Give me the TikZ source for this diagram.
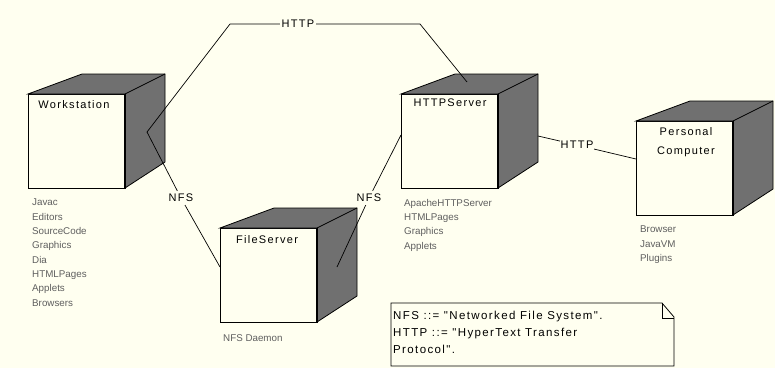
\documentclass[tikz,border=0pt]{standalone}
\usepackage{fontspec}
\setmainfont{Liberation Sans}
\newfontfamily\spacedfont[LetterSpace=12]{Liberation Sans}
\usetikzlibrary{calc}
\definecolor{bg}{RGB}{255,255,240}
\definecolor{shade}{RGB}{112,112,112}
\definecolor{lblgray}{RGB}{95,95,95}
\newcommand\mycube[3]{%
  \node[front] (#1) at (#2+48.5,#3+47) {};
  \filldraw[darkface] (#1.north west) -- ++(54,-20) -- ++(83,0) -- ++(0,88) -- (#1.south east) -- (#1.north east) -- cycle;
  \draw[darkface] (#1.north east) -- ++(40,-20);
  \draw[line width=1.8pt] (#1.north east) -- (#1.south east);
}
\begin{document}
\begin{tikzpicture}[x=1pt,y=-1pt,
  front/.style={draw=black, line width=0.8pt, fill=bg, minimum width=97pt, minimum height=94pt, inner sep=0pt, outer sep=0pt},
  darkface/.style={fill=shade, draw=black, line width=0.8pt, line join=miter},
  nametext/.style={font=\spacedfont\fontsize{11}{19}\selectfont, align=center, anchor=north, inner sep=0pt},
  deploy/.style={font=\fontsize{9.8}{14.3}\selectfont, text=lblgray, align=left, anchor=north west, inner sep=0pt},
  conlbl/.style={font=\spacedfont\fontsize{11}{13}\selectfont, inner sep=1.5pt, fill=bg},
  link/.style={draw=black, line width=0.7pt},
  notebox/.style={minimum width=283pt, minimum height=63pt, inner sep=0pt, outer sep=0pt},
  notetext/.style={font=\spacedfont\fontsize{11.5}{17}\selectfont, align=left, anchor=north west, inner sep=0pt},
]
\useasboundingbox (0,0) rectangle (775,368);
\fill[bg] (0,0) rectangle (775,368);

% cubes
\mycube{ws}{28}{94}
\mycube{hs}{401}{94}
\mycube{fs}{220}{228}
\mycube{pc}{636}{121}

% connector end and bend points
\coordinate (wsA) at (147,132);
\coordinate (h1) at (230,24);
\coordinate (h2) at (420,24);
\coordinate (hsTop) at (467,82);
\coordinate (fsL) at (220,267);
\coordinate (fsD) at (337,267);
\coordinate (hsL) at (401,135);
\coordinate (hsR) at (538,136);
\coordinate (pcL) at (636,159);

% connector labels
\node[conlbl] (lh1) at (298,24) {HTTP};
\node[conlbl, inner ysep=3pt] (ln1) at (181,198) {NFS};
\node[conlbl, inner ysep=3pt] (ln2) at (369,198) {NFS};
\node[conlbl, inner xsep=0.5pt] (lh2) at (577,145) {HTTP};

% connectors
\draw[link] (wsA) -- (h1) -- (lh1) -- (h2) -- (hsTop);
\draw[link] (wsA) -- (ln1) -- (fsL);
\draw[link] (fsD) -- (ln2) -- (hsL);
\draw[link] (hsR) -- (lh2) -- (pcL);

% names
\node[nametext] (wsname) at (74,100) {Workstation};
\node[nametext] (hsname) at (450,99) {HTTPServer};
\node[nametext] (fsname) at (267,235) {FileServer};
\node[nametext] (pcname) at (686,127) {Personal\\Computer};

% deployed components
\node[deploy] (wslist) at (32,199) {Javac\\Editors\\SourceCode\\Graphics\\Dia\\HTMLPages\\Applets\\Browsers};
\node[deploy] (hslist) at (404,199) {ApacheHTTPServer\\HTMLPages\\Graphics\\Applets};
\node[deploy] (pclist) at (640,226) {Browser\\JavaVM\\Plugins};
\node[deploy] (fslist) at (223,334) {NFS Daemon};

% note
\node[notebox] (note) at (532.5,334.5) {};
\filldraw[fill=bg, draw=black, line width=0.8pt]
  (note.north west) -- ($(note.north east)+(-12,0)$) -- ($(note.north east)+(0,14)$)
  -- (note.south east) -- (note.south west) -- cycle;
\draw[line width=0.8pt] ($(note.north east)+(-12,0)$) -- ++(0,15) -- ++(12,0);
\node[notetext] (notetxt) at (393,311) {NFS ::= "Networked File System".\\HTTP ::= "HyperText Transfer\\Protocol".};
\end{tikzpicture}
\end{document}
